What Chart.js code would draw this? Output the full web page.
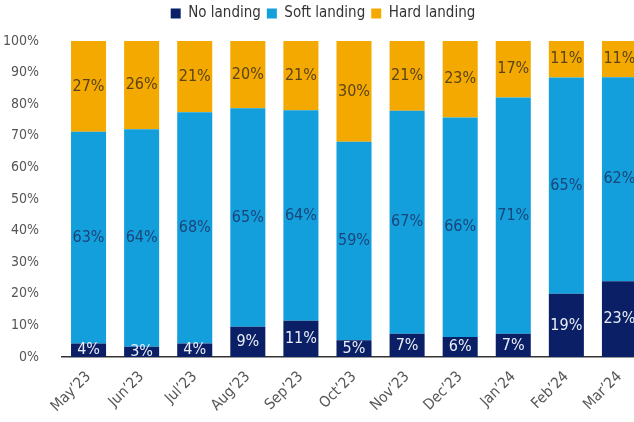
<!DOCTYPE html>
<html>
<head>
<meta charset="utf-8">
<script src="https://cdn.jsdelivr.net/npm/chart.js@4"></script>
<style>
  html, body { margin: 0; padding: 0; background: #fff; overflow: hidden; }
  #wrap { width: 652px; height: 422px; }
</style>
</head>
<body>
<div id="wrap"><canvas id="landingChart"></canvas></div>
<script>
const months = ["May’23", "Jun’23", "Jul’23", "Aug’23", "Sep’23", "Oct’23", "Nov’23", "Dec’23", "Jan’24", "Feb’24", "Mar’24"];
const noLanding = [4, 3, 4, 9, 11, 5, 7, 6, 7, 19, 23];
const softLanding = [63, 64, 68, 65, 64, 59, 67, 66, 71, 65, 62];
const hardLanding = [27, 26, 21, 20, 21, 30, 21, 23, 17, 11, 11];
const yTicks = [0, 10, 20, 30, 40, 50, 60, 70, 80, 90, 100];

const FONT = "'Liberation Sans Narrow', 'DejaVu Sans Condensed', 'Open Sans', sans-serif";

// bars are drawn as share of answers so each column fills 100%
function share(arr) {
  return arr.map((v, i) => v / (noLanding[i] + softLanding[i] + hardLanding[i]) * 100);
}

const labelColors = ['#e8eef8', '#1b4479', '#5a4418'];

const barLabels = {
  id: 'barLabels',
  afterDatasetsDraw(chart) {
    const ctx = chart.ctx;
    ctx.save();
    ctx.font = '16px ' + FONT;
    ctx.textAlign = 'center';
    ctx.textBaseline = 'middle';
    chart.data.datasets.forEach((ds, di) => {
      const meta = chart.getDatasetMeta(di);
      meta.data.forEach((bar, i) => {
        ctx.fillStyle = labelColors[di];
        ctx.fillText(ds.raw[i] + '%', bar.x, (bar.y + bar.base) / 2);
      });
    });
    ctx.restore();
  }
};

// leave some room between the legend and the plot
const legendGap = {
  id: 'legendGap',
  beforeLayout(chart) {
    const lg = chart.legend;
    if (lg && !lg._gapPatched) {
      const fit = lg.fit;
      lg.fit = function () { fit.call(this); this.height += 10; };
      lg._gapPatched = true;
    }
  }
};

new Chart(document.getElementById('landingChart'), {
  type: 'bar',
  data: {
    labels: months,
    datasets: [
      { label: 'No landing', data: share(noLanding), raw: noLanding, backgroundColor: '#0b1f66' },
      { label: 'Soft landing', data: share(softLanding), raw: softLanding, backgroundColor: '#139fdc' },
      { label: 'Hard landing', data: share(hardLanding), raw: hardLanding, backgroundColor: '#f4a900' }
    ]
  },
  options: {
    responsive: true,
    maintainAspectRatio: false,
    animation: false,
    layout: { padding: { top: 0, right: 6, bottom: 0, left: 0 } },
    datasets: { bar: { categoryPercentage: 0.66, barPercentage: 1 } },
    plugins: {
      legend: {
        position: 'top',
        labels: {
          boxWidth: 10, boxHeight: 10, padding: 6,
          color: '#333', font: { family: FONT, size: 15 }
        }
      },
      tooltip: { enabled: false }
    },
    scales: {
      x: {
        stacked: true,
        grid: { display: false },
        border: { display: true, color: '#333', width: 1.5 },
        ticks: { color: '#555', font: { family: FONT, size: 15 }, maxRotation: 45, minRotation: 45 },
        afterFit(scale) { scale.height = 65; }
      },
      y: {
        stacked: true,
        min: 0, max: 100,
        afterBuildTicks(scale) { scale.ticks = yTicks.map(v => ({ value: v })); },
        grid: { display: false },
        border: { display: false },
        ticks: { color: '#555', padding: 15, font: { family: FONT, size: 14 }, callback: v => v + '%' },
        afterFit(scale) { scale.width = 62; }
      }
    }
  },
  plugins: [barLabels, legendGap]
});
</script>
</body>
</html>
